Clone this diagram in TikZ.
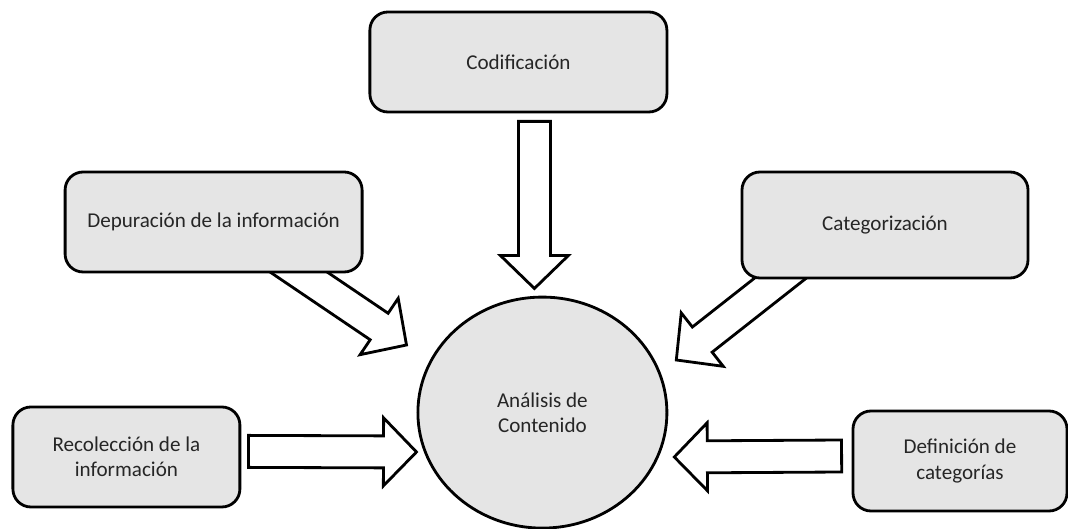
\documentclass[tikz,border=0pt]{standalone}
\usepackage{fontspec}
\setmainfont{Carlito}
\usetikzlibrary{calc,shapes.geometric}

\pgfdeclarelayer{fons}
\pgfsetlayers{fons,main}

\tikzset{
  bloc/.style={draw, line width=2pt, fill=black!10, align=center, text=black!85, font=\fontsize{15}{18}\selectfont},
  caixa/.style={bloc, rectangle, rounded corners=0.45cm},
  cercle/.style={bloc, ellipse},
  fletxa/.style={draw, line width=2pt, fill=white, line join=miter},
}

% fletxa de bloc entre dos punts
\newcommand{\fletxagrossa}[2]{%
  \coordinate (base) at ($(#2)!0.825cm!(#1)$);
  \draw[fletxa] ($(#1)!0.4cm!90:(#2)$) -- ($(base)!0.4cm!90:(#2)$) -- ($(base)!0.85cm!90:(#2)$) -- (#2)
    -- ($(base)!0.85cm!-90:(#2)$) -- ($(base)!0.4cm!-90:(#2)$) -- ($(#1)!0.4cm!-90:(#2)$) -- cycle;}

\begin{document}
\begin{tikzpicture}
    % marc de la figura
    \useasboundingbox (0,0) rectangle (26.7,13.225);

    % node central
    \node[cercle, minimum width=6.225cm, minimum height=5.775cm] (analisi) at (13.56,2.91) {Análisis de\\Contenido};

    % caixes del voltant
    \node[caixa, minimum width=7.425cm, minimum height=2.5cm] (codificacio) at (12.96,11.675) {Codificación};
    \node[caixa, minimum width=7.425cm, minimum height=2.5cm] (depuracio) at (5.34,7.675) {Depuración de la información};
    \node[caixa, minimum width=7.15cm, minimum height=2.65cm] (categoritzacio) at (22.125,7.6) {Categorización};
    \node[caixa, minimum width=5.675cm, minimum height=2.5cm] (recollida) at (3.16,1.8) {Recolección de la\\información};
    \node[caixa, minimum width=5.35cm, minimum height=2.5cm] (definicio) at (24.0,1.7) {Definición de\\categorías};

    % fletxes cap al centre, per sota de les caixes
    \begin{pgfonlayer}{fons}
        \coordinate (codificacio-cua) at ([xshift=0.4cm, yshift=-0.2cm]codificacio.south);
        \coordinate (codificacio-punta) at ([xshift=-0.2cm, yshift=0.18cm]analisi.north);
        \fletxagrossa{codificacio-cua}{codificacio-punta}

        \coordinate (depuracio-cua) at ([xshift=1.51cm, yshift=0.45cm]depuracio.south);
        \coordinate (depuracio-punta) at ([xshift=-0.25cm, yshift=1.69cm]analisi.west);
        \fletxagrossa{depuracio-cua}{depuracio-punta}

        \coordinate (categoritzacio-cua) at ([xshift=-2.025cm, yshift=0.495cm]categoritzacio.south);
        \coordinate (categoritzacio-punta) at ([xshift=0.2cm, yshift=1.315cm]analisi.east);
        \fletxagrossa{categoritzacio-cua}{categoritzacio-punta}

        \coordinate (recollida-cua) at ([xshift=0.18cm, yshift=0.14cm]recollida.east);
        \coordinate (recollida-punta) at ([yshift=-0.985cm]analisi.west);
        \fletxagrossa{recollida-cua}{recollida-punta}

        \coordinate (definicio-cua) at ([xshift=-0.25cm, yshift=0.125cm]definicio.west);
        \coordinate (definicio-punta) at ([xshift=0.15cm, yshift=-1.11cm]analisi.east);
        \fletxagrossa{definicio-cua}{definicio-punta}
    \end{pgfonlayer}

\end{tikzpicture}
\end{document}
